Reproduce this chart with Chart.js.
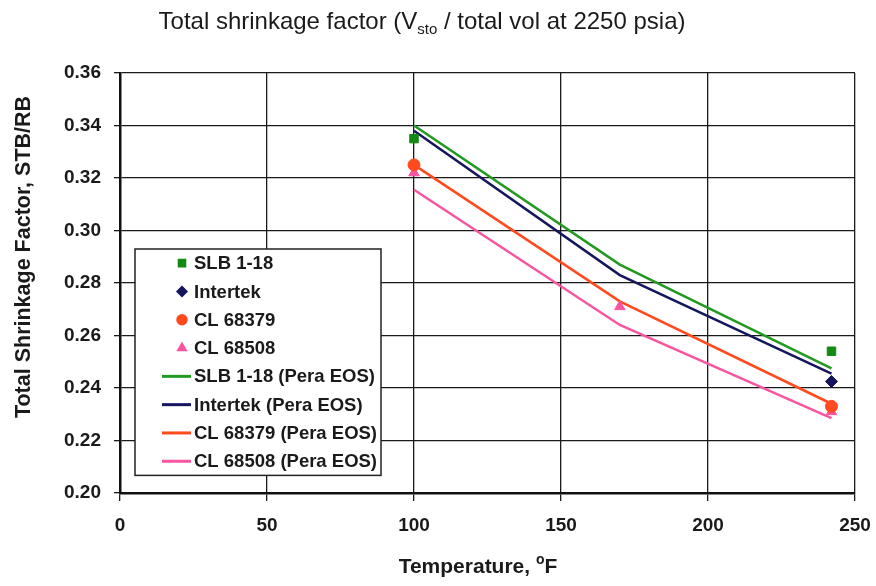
<!DOCTYPE html>
<html>
<head>
<meta charset="utf-8">
<script src="https://cdn.jsdelivr.net/npm/chart.js@4.4.1/dist/chart.umd.min.js"></script>
<style>
  html, body { margin: 0; padding: 0; background: #fff; }
  #shrinkChart { display: block; }
</style>
</head>
<body>
<canvas id="shrinkChart" width="876" height="586"></canvas>
<script>
// measured shrinkage factors (STB/RB) vs temperature (F)
const slbTemp = [100, 242];
const slbVal = [0.335, 0.254];
const intertekTemp = [242];
const intertekVal = [0.2425];
const cl68379Temp = [100, 242];
const cl68379Val = [0.325, 0.233];
const cl68508Temp = [100, 170, 242];
const cl68508Val = [0.322, 0.271, 0.231];

// Pera EOS curves
const eosTemp = [100, 170, 242];
const slbEos = [0.340, 0.287, 0.2475];
const intertekEos = [0.338, 0.283, 0.2455];
const cl68379Eos = [0.325, 0.273, 0.234];
const cl68508Eos = [0.3155, 0.264, 0.2285];

const xTicks = [0, 50, 100, 150, 200, 250];
const yTicks = [0.20, 0.22, 0.24, 0.26, 0.28, 0.30, 0.32, 0.34, 0.36];

function pts(xs, ys) {
    return xs.map((x, i) => ({ x: x, y: ys[i] }));
}

const FONT = '"Liberation Sans", Arial, sans-serif';

// legend box sitting inside the plot, lower left
const insideLegend = {
    id: 'insideLegend',
    afterDatasetsDraw(chart, args, opts) {
        const ctx = chart.ctx;
        const sets = chart.data.datasets;
        const h = opts.rowH * sets.length;
        ctx.save();
        ctx.fillStyle = '#fff';
        ctx.fillRect(opts.x, opts.y, opts.w, h);
        ctx.strokeStyle = '#222';
        ctx.lineWidth = 1.5;
        ctx.strokeRect(opts.x, opts.y, opts.w, h);
        ctx.font = 'bold 18.5px ' + FONT;
        ctx.textBaseline = 'middle';
        sets.forEach((ds, i) => {
            const cy = opts.y + opts.rowH * (i + 0.5);
            if (ds.showLine) {
                ctx.strokeStyle = ds.borderColor;
                ctx.lineWidth = 3;
                ctx.beginPath();
                ctx.moveTo(opts.x + 27, cy);
                ctx.lineTo(opts.x + 56, cy);
                ctx.stroke();
            } else {
                ctx.fillStyle = ds.backgroundColor;
                ctx.strokeStyle = ds.borderColor;
                Chart.helpers.drawPoint(ctx, {
                    pointStyle: ds.pointStyle, radius: 5, borderWidth: 1, rotation: 0
                }, opts.x + 47, cy);
            }
            ctx.fillStyle = '#1a1a1a';
            ctx.fillText(ds.label, opts.x + 59, cy + 1);
        });
        ctx.restore();
    }
};

// title and axis titles (with sub/superscripts)
const customTitles = {
    id: 'customTitles',
    afterDraw(chart) {
        const ctx = chart.ctx;
        ctx.save();
        ctx.fillStyle = '#1a1a1a';
        ctx.textBaseline = 'alphabetic';

        // chart title
        const big = '24px ' + FONT;
        const small = '15px ' + FONT;
        const p1 = 'Total shrinkage factor (V', p2 = 'sto', p3 = ' / total vol at 2250 psia)';
        ctx.font = big;
        const w1 = ctx.measureText(p1).width, w3 = ctx.measureText(p3).width;
        ctx.font = small;
        const w2 = ctx.measureText(p2).width;
        let tx = 422 - (w1 + w2 + w3) / 2;
        const ty = 29;
        ctx.font = big; ctx.fillText(p1, tx, ty); tx += w1;
        ctx.font = small; ctx.fillText(p2, tx, ty + 5); tx += w2;
        ctx.font = big; ctx.fillText(p3, tx, ty);

        // x axis title
        const xb = 'bold 21px ' + FONT, xs = 'bold 14px ' + FONT;
        const a = 'Temperature, ', b = 'o', c = 'F';
        ctx.font = xb;
        const wa = ctx.measureText(a).width, wc = ctx.measureText(c).width;
        ctx.font = xs;
        const wb = ctx.measureText(b).width;
        let ax = 478 - (wa + wb + wc) / 2;
        const ay = 573;
        ctx.font = xb; ctx.fillText(a, ax, ay); ax += wa;
        ctx.font = xs; ctx.fillText(b, ax, ay - 9); ax += wb;
        ctx.font = xb; ctx.fillText(c, ax, ay);

        // y axis title
        ctx.translate(30, 257);
        ctx.rotate(-Math.PI / 2);
        ctx.font = 'bold 21.5px ' + FONT;
        ctx.textAlign = 'center';
        ctx.fillText('Total Shrinkage Factor, STB/RB', 0, 0);
        ctx.restore();
    }
};

const whiteBg = {
    id: 'whiteBg',
    beforeDraw(chart) {
        const ctx = chart.ctx;
        ctx.save();
        ctx.fillStyle = '#fff';
        ctx.fillRect(0, 0, chart.width, chart.height);
        ctx.restore();
    }
};

const GREEN = '#229a22', NAVY = '#16165e', ORANGE = '#ff4a1e', PINK = '#f7559f';

new Chart(document.getElementById('shrinkChart'), {
    type: 'scatter',
    data: {
        datasets: [
            { label: 'SLB 1-18', data: pts(slbTemp, slbVal), pointStyle: 'rect', pointRadius: 6,
              backgroundColor: '#138a13', borderColor: '#138a13', showLine: false },
            { label: 'Intertek', data: pts(intertekTemp, intertekVal), pointStyle: 'rectRot', pointRadius: 6,
              backgroundColor: NAVY, borderColor: NAVY, showLine: false },
            { label: 'CL 68379', data: pts(cl68379Temp, cl68379Val), pointStyle: 'circle', pointRadius: 6,
              backgroundColor: ORANGE, borderColor: ORANGE, showLine: false },
            { label: 'CL 68508', data: pts(cl68508Temp, cl68508Val), pointStyle: 'triangle', pointRadius: 6,
              backgroundColor: PINK, borderColor: PINK, showLine: false },
            { label: 'SLB 1-18 (Pera EOS)', data: pts(eosTemp, slbEos), showLine: true, pointRadius: 0,
              borderColor: GREEN, backgroundColor: GREEN, borderWidth: 2.5 },
            { label: 'Intertek (Pera EOS)', data: pts(eosTemp, intertekEos), showLine: true, pointRadius: 0,
              borderColor: NAVY, backgroundColor: NAVY, borderWidth: 2.5 },
            { label: 'CL 68379 (Pera EOS)', data: pts(eosTemp, cl68379Eos), showLine: true, pointRadius: 0,
              borderColor: ORANGE, backgroundColor: ORANGE, borderWidth: 2.5 },
            { label: 'CL 68508 (Pera EOS)', data: pts(eosTemp, cl68508Eos), showLine: true, pointRadius: 0,
              borderColor: PINK, backgroundColor: PINK, borderWidth: 2.5 }
        ]
    },
    options: {
        responsive: false,
        animation: false,
        devicePixelRatio: 1,
        layout: { padding: { top: 73, right: 21, left: 0, bottom: 0 } },
        plugins: {
            legend: { display: false },
            tooltip: { enabled: false },
            insideLegend: { x: 135, y: 249, w: 246, rowH: 28.3 }
        },
        scales: {
            x: {
                type: 'linear', min: 0, max: 250,
                afterFit: (scale) => {
                    scale.height = 93;
                    scale.paddingLeft = 0;
                    scale.paddingRight = 0;
                },
                afterBuildTicks: (scale) => { scale.ticks = xTicks.map(v => ({ value: v })); },
                ticks: { color: '#1a1a1a', padding: 13, font: { family: FONT, size: 19, weight: 'bold' } },
                grid: { color: '#1a1a1a', lineWidth: 1.3, tickLength: 8, tickColor: '#1a1a1a' },
                border: { color: '#111', width: 2.5 }
            },
            y: {
                min: 0.20, max: 0.36,
                afterFit: (scale) => { scale.width = 120; },
                afterBuildTicks: (scale) => { scale.ticks = yTicks.map(v => ({ value: v })); },
                ticks: { color: '#1a1a1a', padding: 13, font: { family: FONT, size: 19, weight: 'bold' },
                         callback: (v) => v.toFixed(2) },
                grid: { color: '#1a1a1a', lineWidth: 1.3, tickLength: 6, tickColor: '#1a1a1a' },
                border: { color: '#111', width: 2.5 }
            }
        }
    },
    plugins: [whiteBg, insideLegend, customTitles]
});
</script>
</body>
</html>
